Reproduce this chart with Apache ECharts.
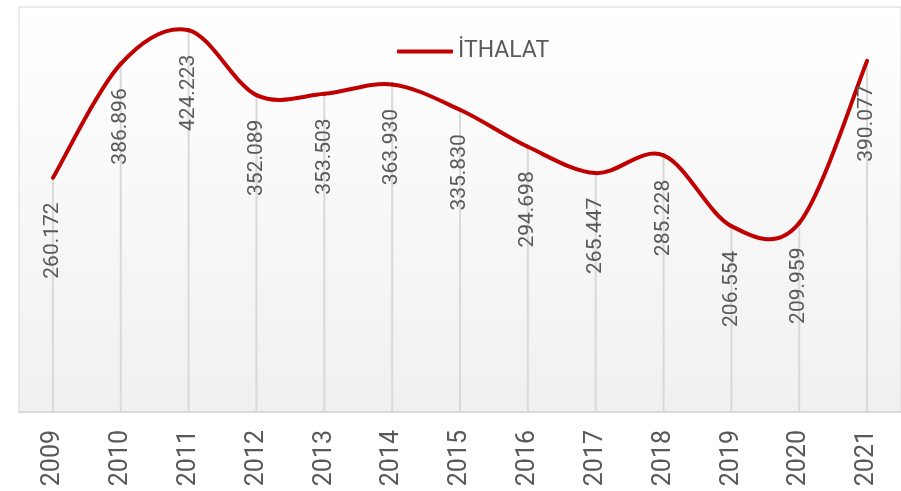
<!DOCTYPE html>
<html>
<head>
<meta charset="utf-8">
<script src="https://cdn.jsdelivr.net/npm/echarts@6/dist/echarts.min.js"></script>
<style>
  html, body { margin: 0; padding: 0; background: #fff; }
  #chart { width: 901px; height: 491px; }
</style>
</head>
<body>
<div id="chart"></div>
<script>
// years on the x axis
const years = ["2009", "2010", "2011", "2012", "2013", "2014", "2015", "2016", "2017", "2018", "2019", "2020", "2021"];
// import values (İTHALAT)
const imports = [260.172, 386.896, 424.223, 352.089, 353.503, 363.930, 335.830, 294.698, 265.447, 285.228, 206.554, 209.959, 390.077];

const chart = echarts.init(document.getElementById("chart"));

// smooth curve through the points, spreadsheet style (catmull-rom like)
const renderCurve = (params, api) => {
  if (params.dataIndex !== 0) return null;
  const pts = imports.map((v, i) => api.coord([i, v]));
  const last = pts.length - 1;
  const children = [];
  for (let i = 0; i < last; i++) {
    const p0 = pts[Math.max(i - 1, 0)];
    const p1 = pts[i];
    const p2 = pts[i + 1];
    const p3 = pts[Math.min(i + 2, last)];
    children.push({
      type: "bezierCurve",
      shape: {
        x1: p1[0], y1: p1[1],
        cpx1: p1[0] + (p2[0] - p0[0]) / 6,
        cpy1: p1[1] + (p2[1] - p0[1]) / 6,
        cpx2: p2[0] - (p3[0] - p1[0]) / 6,
        cpy2: p2[1] - (p3[1] - p1[1]) / 6,
        x2: p2[0], y2: p2[1],
      },
      style: { fill: null, stroke: "#c00000", lineWidth: 4, lineCap: "round" },
    });
  }
  return { type: "group", children };
};

const option = {
  animation: false,
  legend: {
    data: ["İTHALAT"],
    left: 392,
    top: 35,
    icon: "roundRect",
    itemWidth: 56,
    itemHeight: 4,
    textStyle: { color: "#595959", fontSize: 23, fontFamily: "Roboto" },
  },
  grid: {
    left: 19,
    right: -2,
    top: 7,
    bottom: 79,
    show: true,
    borderColor: "#d9d9d9",
    borderWidth: 1,
    backgroundColor: new echarts.graphic.LinearGradient(0, 0, 0, 1, [
      { offset: 0, color: "#ffffff" },
      { offset: 1, color: "#f0f0f0" },
    ]),
  },
  xAxis: {
    type: "category",
    data: years,
    boundaryGap: true,
    axisTick: { show: false },
    axisLine: { lineStyle: { color: "#d9d9d9", width: 2 } },
    axisLabel: {
      rotate: 90,
      margin: 18,
      color: "#595959",
      fontSize: 25,
      fontFamily: "Roboto",
    },
  },
  yAxis: {
    type: "value",
    min: 0,
    max: 450,
    show: false,
    splitLine: { show: false },
  },
  series: [
    {
      // drop lines under each point
      name: "drop",
      type: "bar",
      data: imports,
      barWidth: 2,
      silent: true,
      itemStyle: { color: "#d9d9d9" },
      z: 1,
    },
    {
      name: "İTHALAT",
      type: "custom",
      data: imports,
      renderItem: renderCurve,
      itemStyle: { color: "#c00000" },
      silent: true,
      z: 3,
    },
    {
      // value labels
      name: "labels",
      type: "line",
      data: imports,
      symbol: "circle",
      symbolSize: 1,
      showSymbol: true,
      showAllSymbol: true,
      lineStyle: { width: 0, color: "transparent" },
      itemStyle: { color: "transparent" },
      silent: true,
      z: 4,
      label: {
        show: true,
        position: "bottom",
        distance: 24,
        rotate: 90,
        align: "right",
        verticalAlign: "middle",
        color: "#595959",
        fontSize: 21,
        fontFamily: "Roboto",
        formatter: (p) => p.value.toFixed(3),
      },
    },
  ],
};

chart.setOption(option);
</script>
</body>
</html>
